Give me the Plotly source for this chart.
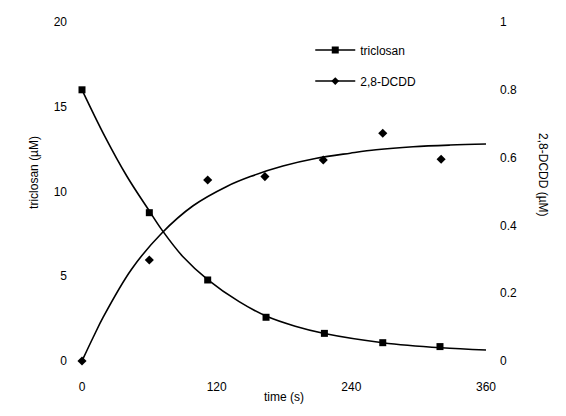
import plotly.graph_objects as go

# measured data points
t_pts = [0, 60, 112, 164, 216, 268, 319]
triclosan = [16.0, 8.75, 4.78, 2.58, 1.63, 1.08, 0.85]
t_dcdd = [0, 60, 112, 163, 215, 268, 320]
dcdd = [0.0, 0.298, 0.534, 0.544, 0.593, 0.672, 0.595]

# fitted curves
t_fit_tcs = [0, 20, 40, 60, 71, 90, 112, 140, 165, 190, 216, 268, 320, 360]
fit_tcs = [16.0, 13.3, 10.9, 8.85, 7.75, 6.15, 4.8, 3.5, 2.62, 2.05, 1.62, 1.08, 0.78, 0.65]
t_fit_dc = [0, 10, 19, 44, 71, 99, 129, 150, 179, 209, 239, 262, 295, 328, 360]
fit_dc = [0.0, 0.07, 0.13, 0.27, 0.377, 0.458, 0.515, 0.544, 0.575, 0.598, 0.613, 0.623, 0.632, 0.637, 0.64]

x_ticks = [0, 120, 240, 360]
y_ticks = [0, 5, 10, 15, 20]
y2_ticks = [0, 0.2, 0.4, 0.6, 0.8, 1]
y2_labels = ["0", "0.2", "0.4", "0.6", "0.8", "1"]

FONT = "Liberation Sans"
fig = go.Figure()

fig.add_trace(go.Scatter(x=t_fit_tcs, y=fit_tcs, mode="lines", line=dict(color="black", width=1.6, shape="spline"),
                         showlegend=False, cliponaxis=False))
fig.add_trace(go.Scatter(x=t_pts, y=triclosan, mode="markers", marker=dict(symbol="square", size=7, color="black"),
                         showlegend=False, cliponaxis=False))
fig.add_trace(go.Scatter(x=t_fit_dc, y=fit_dc, mode="lines", yaxis="y2",
                         line=dict(color="black", width=1.6, shape="spline"), showlegend=False, cliponaxis=False))
fig.add_trace(go.Scatter(x=t_dcdd, y=dcdd, mode="markers", yaxis="y2",
                         marker=dict(symbol="diamond", size=7, color="black"), showlegend=False, cliponaxis=False))

# legend entries
fig.add_trace(go.Scatter(x=[None], y=[None], mode="lines+markers", name="triclosan", legendgroup="a",
                         line=dict(color="black", width=1.6), marker=dict(symbol="square", size=7, color="black")))
fig.add_trace(go.Scatter(x=[None], y=[None], mode="lines+markers", name="2,8-DCDD", legendgroup="b",
                         line=dict(color="black", width=1.6), marker=dict(symbol="diamond", size=6, color="black")))

fig.update_layout(
    width=566, height=416,
    margin=dict(l=82, r=80, t=22, b=55),
    paper_bgcolor="white", plot_bgcolor="white",
    font=dict(family=FONT, size=12, color="black"),
    xaxis=dict(range=[0, 360], tickvals=x_ticks, showgrid=False, zeroline=False, showline=False,
               ticks="", ticklabelstandoff=17),
    yaxis=dict(range=[0, 20], tickvals=y_ticks, showgrid=False, zeroline=False, showline=False,
               ticks="", ticklabelstandoff=14),
    yaxis2=dict(range=[0, 1], tickvals=y2_ticks, ticktext=y2_labels, overlaying="y", side="right",
                showgrid=False, zeroline=False, showline=False, ticks="", ticklabelstandoff=13),
    showlegend=True,
    legend=dict(x=0.565, y=0.96, xanchor="left", yanchor="top", bgcolor="rgba(0,0,0,0)",
                traceorder="grouped", tracegroupgap=12, itemwidth=40, font=dict(family=FONT, size=12)),
    annotations=[
        dict(text="triclosan (µM)", x=-0.141, y=0.555, xref="paper", yref="paper", textangle=-90,
             showarrow=False, font=dict(family=FONT, size=12)),
        dict(text="2,8-DCDD (µM)", x=1.163, y=0.549, xref="paper", yref="paper", textangle=90,
             showarrow=False, font=dict(family=FONT, size=12)),
        dict(text="time (s)", x=0.5, y=-0.133, xref="paper", yref="paper",
             showarrow=False, font=dict(family=FONT, size=12)),
    ],
)

fig.write_html("out.html")
